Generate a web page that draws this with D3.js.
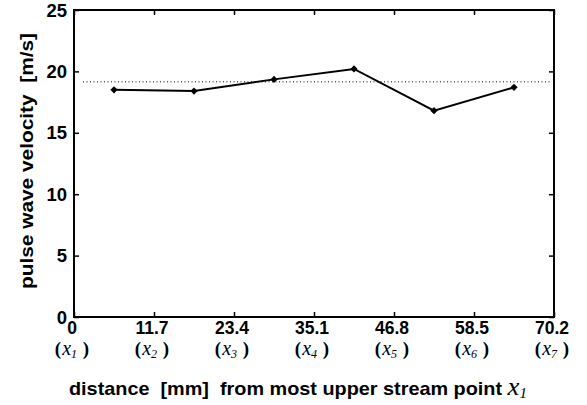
<!DOCTYPE html>
<html>
<head>
<meta charset="utf-8">
<script src="https://cdn.jsdelivr.net/npm/d3@7"></script>
<style>
  html, body { margin: 0; padding: 0; background: #fff; }
  svg { display: block; }
  text { white-space: pre; }
  .sans { font-family: "Liberation Sans", Arial, Helvetica, sans-serif; font-weight: bold; }
  .serif { font-family: "Liberation Serif", "Times New Roman", serif; }
</style>
</head>
<body>
<svg id="chart" width="587" height="405"></svg>
<script>
// Distance ticks along the vessel [mm] and the measuring points they mark
const distanceTicks = [0, 11.7, 23.4, 35.1, 46.8, 58.5, 70.2];
const pointIndices = ["1", "2", "3", "4", "5", "6", "7"];
// Pulse wave velocity between neighbouring points (plotted at segment midpoints)
const segmentMidpoints = [5.85, 17.55, 29.25, 40.95, 52.65, 64.35];
const velocities = [18.5, 18.4, 19.35, 20.2, 16.8, 18.7];
// Overall velocity, drawn as a dotted reference line
const overallVelocity = [19.15];
const velocityTicks = [0, 5, 10, 15, 20, 25];

const svg = d3.select("#chart");
const margin = { left: 74, right: 33, top: 10, bottom: 88 };
const W = 587, H = 405;

const x = d3.scaleLinear().domain([0, 70.2]).range([margin.left, W - margin.right]);
const y = d3.scaleLinear().domain([0, 25]).range([H - margin.bottom, margin.top]);

const x0 = x.range()[0], x1 = x.range()[1];
const y0 = y.range()[0], y1 = y.range()[1];
const tickLen = 5;

// Inward ticks on all four sides
const bottomAxis = d3.axisBottom(x).tickValues(distanceTicks).tickSize(-tickLen).tickFormat("");
const topAxis = d3.axisTop(x).tickValues(distanceTicks).tickSize(-tickLen).tickFormat("");
const leftAxis = d3.axisLeft(y).tickValues(velocityTicks).tickSize(-tickLen).tickFormat("");
const rightAxis = d3.axisRight(y).tickValues(velocityTicks).tickSize(-tickLen).tickFormat("");

function styleAxis(g) {
  g.select(".domain").remove();
  g.selectAll(".tick line").attr("stroke", "#000").attr("stroke-width", 1.5);
}
svg.append("g").attr("transform", `translate(0,${y0})`).call(bottomAxis).call(styleAxis);
svg.append("g").attr("transform", `translate(0,${y1})`).call(topAxis).call(styleAxis);
svg.append("g").attr("transform", `translate(${x0},0)`).call(leftAxis).call(styleAxis);
svg.append("g").attr("transform", `translate(${x1},0)`).call(rightAxis).call(styleAxis);

// Frame
svg.append("rect")
  .attr("x", x0).attr("y", y1)
  .attr("width", x1 - x0).attr("height", y0 - y1)
  .attr("fill", "none").attr("stroke", "#000").attr("stroke-width", 2);

// Y tick labels
svg.append("g").selectAll("text")
  .data(velocityTicks).join("text")
  .attr("class", "sans")
  .attr("x", x0 - 7)
  .attr("y", d => y(d) + 6.5)
  .attr("text-anchor", "end")
  .attr("font-size", 18.5)
  .text(d => d);

// X tick labels: distance and point name
const xLab = svg.append("g").selectAll("g")
  .data(distanceTicks).join("g")
  .attr("transform", d => `translate(${x(d) - 2},0)`);
xLab.append("text")
  .attr("class", "sans")
  .attr("y", 333.5)
  .attr("text-anchor", "middle")
  .attr("font-size", 17.5)
  .text(d => d === 0 ? "0" : d.toFixed(1));
const pt = xLab.append("text")
  .attr("class", "serif")
  .attr("y", 355)
  .attr("text-anchor", "middle")
  .attr("font-size", 19)
  .attr("font-weight", "bold");
pt.append("tspan").text("(");
pt.append("tspan").attr("font-style", "italic").attr("font-weight", "normal").attr("font-size", 20).attr("dx", 1).text("x");
pt.append("tspan").attr("font-style", "italic").attr("font-weight", "normal").attr("font-size", 12).attr("dy", 3)
  .text((d, i) => pointIndices[i]);
pt.append("tspan").attr("dy", -3).attr("dx", 1).text(" )");

// Dotted overall-velocity line
svg.append("g").selectAll("line")
  .data(overallVelocity).join("line")
  .attr("x1", x0 + 9).attr("x2", x1 - 2)
  .attr("y1", d => y(d)).attr("y2", d => y(d))
  .attr("stroke", "#000").attr("stroke-width", 1)
  .attr("stroke-dasharray", "1,2.5");

// Velocity line with diamond markers
const series = segmentMidpoints.map((d, i) => ({ pos: d, v: velocities[i] }));
svg.append("path")
  .datum(series)
  .attr("fill", "none").attr("stroke", "#000").attr("stroke-width", 2)
  .attr("d", d3.line().x(d => x(d.pos)).y(d => y(d.v)));
svg.append("g").selectAll("path")
  .data(series).join("path")
  .attr("transform", d => `translate(${x(d.pos)},${y(d.v)}) rotate(45)`)
  .attr("d", d3.symbol().type(d3.symbolSquare).size(26))
  .attr("fill", "#000");

// Y axis title
svg.append("text")
  .attr("class", "sans")
  .attr("transform", "translate(33,161) rotate(-90)")
  .attr("text-anchor", "middle")
  .attr("font-size", 17.5)
  .attr("textLength", 256)
  .attr("lengthAdjust", "spacingAndGlyphs")
  .text("pulse wave velocity  [m/s]");

// X axis title
const xt = svg.append("text")
  .attr("x", 69).attr("y", 395)
  .attr("font-size", 18.5)
  .attr("textLength", 458)
  .attr("lengthAdjust", "spacingAndGlyphs");
xt.append("tspan").attr("class", "sans").text("distance  [mm]  from most upper stream point ");
xt.append("tspan").attr("class", "serif").attr("font-style", "italic").attr("font-size", 25).text("x");
xt.append("tspan").attr("class", "serif").attr("font-style", "italic").attr("font-size", 14).attr("dy", 3).text("1");
</script>
</body>
</html>
